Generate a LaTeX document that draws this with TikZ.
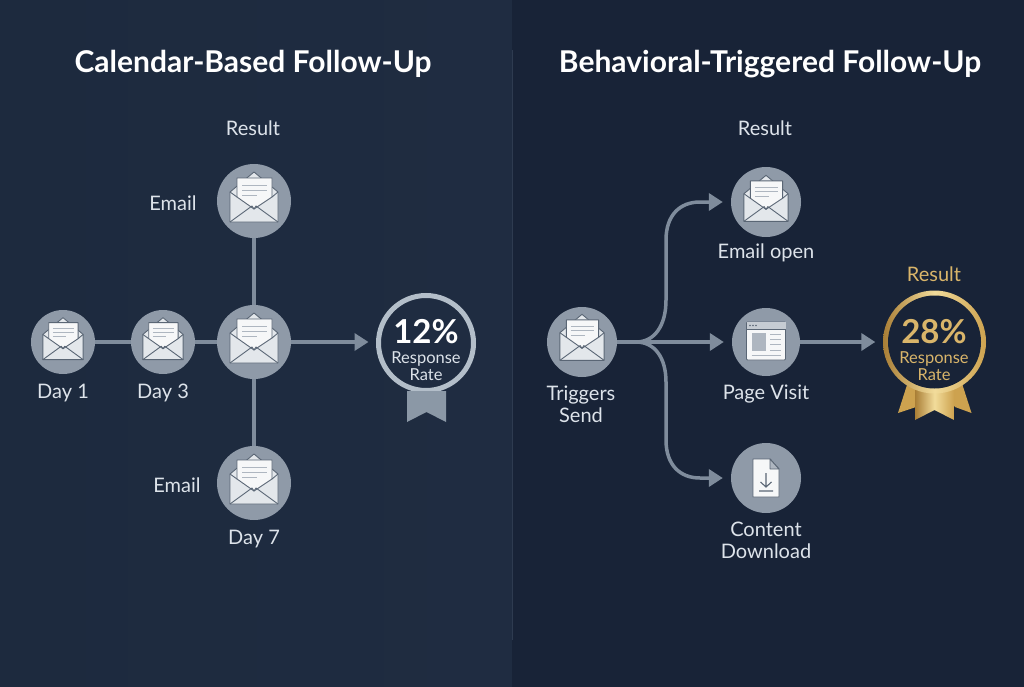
\documentclass[tikz,border=0pt]{standalone}
\usepackage{fontspec}
\setmainfont{Lato}
\usetikzlibrary{arrows.meta}
\definecolor{panelL}{HTML}{1F2C41}
\definecolor{panelLb}{HTML}{1D2A3E}
\definecolor{panelR}{HTML}{182337}
\definecolor{divline}{HTML}{2E3B50}
\definecolor{disc}{HTML}{8F9AA8}
\definecolor{conn}{HTML}{7F8C9C}
\definecolor{labelc}{HTML}{DDE3EA}
\definecolor{ringc}{HTML}{B3BEC9}
\definecolor{ribbonc}{HTML}{8B98A6}
\definecolor{goldD}{HTML}{A97E36}
\definecolor{goldM}{HTML}{CDA24F}
\definecolor{goldL}{HTML}{F2DC9B}
\definecolor{goldT}{HTML}{D9B56A}
\definecolor{iconline}{HTML}{5A6675}
\definecolor{paper}{HTML}{F6F7F8}
\definecolor{envl}{HTML}{E3E7EB}
\definecolor{tline}{HTML}{AEB6C0}
\tikzset{
  x=1pt,y=-1pt,
  discnode/.style={circle,fill=disc,draw=none,inner sep=0pt,minimum size=#1},
  lab/.style={text=labelc,font=\fontsize{20}{23}\selectfont,align=center,inner sep=0pt},
  heading/.style={text=white,font=\fontsize{30}{34}\selectfont\bfseries,inner sep=0pt},
  link/.style={draw=conn,line width=3.5pt},
  arrowlink/.style={link,-{Triangle[length=14pt,width=17pt]},shorten >=7.5pt},
  iconstroke/.style={draw=iconline,line width=0.9pt,line join=round},
  paperline/.style={draw=tline,line width=1pt},
}
\newcommand{\envicon}[3]{%
  \begin{scope}[shift={(#1,#2)},scale=#3]
    \path[iconstroke,fill=envl] (-24,-9) -- (0,-29) -- (24,-9) -- (24,21) -- (-24,21) -- cycle;
    \path[iconstroke,fill=paper] (-17,-23) -- (18,-23) -- (18,-4) -- (0,8) -- (-17,-4) -- cycle;
    \draw[paperline] (-12,-16) -- (13,-16);
    \draw[paperline] (-12,-11) -- (13,-11);
    \draw[paperline] (-12,-6) -- (3,-6);
    \path[iconstroke] (-24,21) -- (-2,5) -- (0,8) -- (2,5) -- (24,21);
    \path[iconstroke] (-24,-9) -- (-17,-4);
    \path[iconstroke] (24,-9) -- (18,-4);
  \end{scope}}
\begin{document}
\begin{tikzpicture}
\useasboundingbox (0,0) rectangle (1024,687);
% panels
\shade[left color=panelLb,right color=panelL,shading angle=90] (0,0) rectangle (512,687);
\fill[panelR] (512,0) rectangle (1024,687);
\draw[divline,line width=1pt] (512,50) -- (512,640);
% titles
\node[heading] (titleL) at (253,64) {Calendar-Based Follow-Up};
\node[heading] (titleR) at (770,64) {Behavioral-Triggered Follow-Up};
% LEFT nodes
\node[discnode=64pt] (d1) at (63,342) {};
\node[discnode=64pt] (d3) at (163,342) {};
\node[discnode=74pt] (hub) at (254,342) {};
\node[discnode=74pt] (top) at (254,201) {};
\node[discnode=74pt] (bot) at (254,483) {};
\node[circle,draw=ringc,line width=5pt,fill=panelL,inner sep=0pt,minimum size=95pt] (badgeL) at (426,343) {};
% left connectors
\draw[link] (d1) -- (d3);
\draw[link] (d3) -- (hub);
\draw[link] (top) -- (hub);
\draw[link] (hub) -- (bot);
\draw[arrowlink] (hub) -- (hub -| badgeL.west);
% icons
\envicon{63}{342}{0.84}
\envicon{163}{342}{0.84}
\envicon{254}{342}{1}
\envicon{254}{201}{1}
\envicon{254}{483}{1}
% ribbon L
\fill[ribbonc] (407,391) -- (446,391) -- (446,422) -- (426.5,412) -- (407,422) -- cycle;
\node[lab] (resL) at (253,128) {Result};
\node[lab] (emT) at (173,203) {Email};
\node[lab] (emB) at (177,485) {Email};
\node[lab] (d7) at (254,539) {Day 7};
\node[lab] (d1l) at (63,393) {Day 1};
\node[lab] (d3l) at (163,393) {Day 3};
\node[text=white,font=\fontsize{33}{36}\selectfont\bfseries,inner sep=0pt] (pctL) at (426,332) {12\%};
\node[text=labelc,font=\fontsize{16.5}{17.5}\selectfont,align=center,inner sep=0pt] (rrL) at (426,366) {Response\\Rate};
% RIGHT nodes
\node[discnode=70pt] (trig) at (582,342) {};
\node[discnode=70pt] (open) at (766,202) {};
\node[discnode=68pt] (page) at (766,342) {};
\node[discnode=70pt] (dl) at (766,478) {};
\coordinate (goldc) at (934.5,342);
\fill[goldM] (907,385) -- (898,413) -- (916,407) -- (925,392) -- cycle;
\fill[goldM] (962.5,385) -- (971.5,413) -- (955,407) -- (944,392) -- cycle;
\shade[left color=goldD,right color=goldM,middle color=goldL] (915,390) -- (954,390) -- (954,420) -- (934.5,410) -- (915,420) -- cycle;
\node[circle,left color=goldD,right color=goldM,middle color=goldL,inner sep=0pt,minimum size=103pt] (badgeR) at (goldc) {};
\node[circle,fill=panelR,inner sep=0pt,minimum size=93pt] (badgeRin) at (goldc) {};
% right connectors
\draw[arrowlink] (page) -- (badgeR);
\draw[link,line join=round,-{Triangle[length=14pt,width=17pt]},shorten >=8pt]
  (trig.east) -- (636,342) .. controls (655,342) and (666,325) .. (666,300) -- (666,240) .. controls (666,215) and (680,202) .. (700,202) -- (open.west);
\draw[link,line join=round,-{Triangle[length=14pt,width=17pt]},shorten >=8pt]
  (trig.east) -- (636,342) .. controls (655,342) and (666,358) .. (666,382) -- (666,440) .. controls (666,465) and (680,478) .. (700,478) -- (dl.west);
\draw[arrowlink,shorten >=8pt] (trig) -- (page);
\envicon{582}{341}{0.92}
\envicon{766}{202}{0.92}
% page icon
\begin{scope}[shift={(766,342)}]
  \path[iconstroke,fill=paper,rounded corners=1pt] (-19.5,-20) rectangle (19.5,18);
  \fill[tline!70!white] (-19.5,-20) rectangle (19.5,-13);
  \draw[iconline,line width=0.9pt] (-19.5,-13) -- (19.5,-13);
  \fill[iconline] (-16,-16.5) circle (0.8) (-13,-16.5) circle (0.8) (-10,-16.5) circle (0.8);
  \fill[tline] (-14.5,-9) rectangle (0,9);
  \draw[paperline] (4,-8) -- (15,-8) (4,-3) -- (15,-3) (4,2) -- (15,2) (4,8) -- (15,8) (-14.5,13) -- (15,13);
\end{scope}
% doc icon
\begin{scope}[shift={(766,478)}]
  \path[iconstroke,fill=paper] (-13,-19) -- (4,-19) -- (13,-9) -- (13,19) -- (-13,19) -- cycle;
  \path[iconstroke,fill=tline] (4,-19) -- (4,-9) -- (13,-9) -- cycle;
  \draw[iconline,line width=1.1pt] (0,-5) -- (0,9) (-5.5,4) -- (0,9) -- (5.5,4) (-7,13) -- (7,13);
\end{scope}
% labels
\node[lab] (resR) at (765,128) {Result};
\node[lab] (opl) at (766,253) {Email open};
\node[lab] (pgl) at (766,394) {Page Visit};
\node[lab,font=\fontsize{20}{22}\selectfont] (trl) at (581,404) {Triggers\\Send};
\node[lab,font=\fontsize{20}{22}\selectfont] (dll) at (766,540) {Content\\Download};
\node[lab,text=goldT] (resG) at (934,274) {Result};
\node[text=goldT,font=\fontsize{33}{36}\selectfont\bfseries,inner sep=0pt] (pctR) at (934,332) {28\%};
\node[text=goldT,font=\fontsize{16.5}{17.5}\selectfont,align=center,inner sep=0pt] (rrR) at (934,366) {Response\\Rate};
\end{tikzpicture}
\end{document}
